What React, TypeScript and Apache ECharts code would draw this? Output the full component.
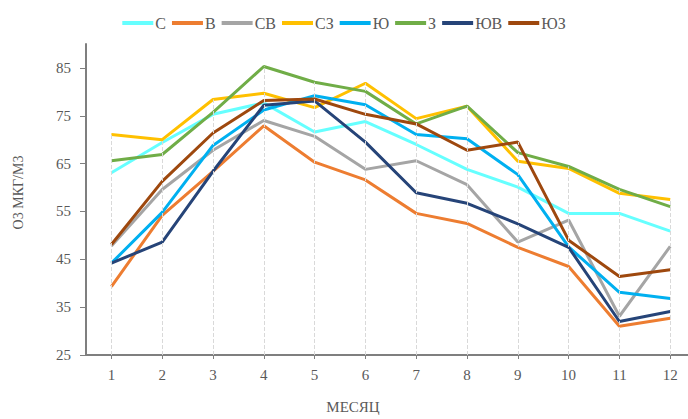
import React, { useEffect, useRef } from "react";
import * as echarts from "echarts";

const months = [1, 2, 3, 4, 5, 6, 7, 8, 9, 10, 11, 12];
const yTicks = [25, 35, 45, 55, 65, 75, 85];

const seriesNames = ["С", "В", "СВ", "СЗ", "Ю", "З", "ЮВ", "ЮЗ"];
const seriesColors = ["#66FFFF", "#ED7D31", "#A5A5A5", "#FFC000", "#00B0F0", "#70AD47", "#264478", "#9E480E"];

const sN = [63.1, 69.4, 75.3, 77.7, 71.6, 73.8, 69.0, 63.8, 60.1, 54.6, 54.6, 50.9];
const sE = [39.3, 54.2, 63.4, 72.9, 65.3, 61.6, 54.6, 52.5, 47.5, 43.5, 31.0, 32.7];
const sNE = [47.8, 59.6, 67.8, 74.0, 70.7, 63.8, 65.6, 60.6, 48.6, 53.2, 33.1, 47.7];
const sNW = [71.1, 70.0, 78.4, 79.7, 76.7, 81.8, 74.4, 77.0, 65.5, 64.0, 58.8, 57.5];
const sS = [44.2, 54.8, 68.8, 76.2, 79.2, 77.3, 71.1, 70.2, 62.7, 47.6, 38.1, 36.8];
const sW = [65.6, 66.9, 75.7, 85.3, 82.0, 80.1, 73.3, 77.0, 67.3, 64.4, 59.6, 56.0];
const sSE = [44.2, 48.6, 63.4, 77.2, 78.1, 69.5, 58.9, 56.7, 52.4, 47.5, 32.0, 34.1];
const sSW = [48.1, 61.3, 71.4, 78.2, 78.5, 75.3, 73.3, 67.8, 69.5, 49.0, 41.4, 42.8];

const seriesValues = [sN, sE, sNE, sNW, sS, sW, sSE, sSW];

const FONT = "Liberation Serif";
const TEXT = "#595959";
const AXIS = "#7F7F7F";

export default function App() {
  const ref = useRef<HTMLDivElement>(null);

  useEffect(() => {
    if (!ref.current) return;
    const chart = echarts.init(ref.current, undefined, { renderer: "svg" });
    const yMin = yTicks[0];
    const maxes = months.map((_, i) => Math.max(...seriesValues.map((s) => s[i])));

    const lineSeries = seriesNames.map((name, k) => ({
      name,
      type: "line",
      data: months.map((m, i) => [m, seriesValues[k][i]]),
      symbol: "none",
      lineStyle: { width: 3, color: seriesColors[k] },
      itemStyle: { color: seriesColors[k] },
      z: 3,
    }));

    chart.setOption({
      animation: false,
      textStyle: { fontFamily: FONT },
      legend: {
        data: seriesNames,
        top: 10,
        left: "center",
        icon: "rect",
        itemWidth: 31,
        itemHeight: 4,
        itemGap: 6,
        textStyle: { color: TEXT, fontSize: 16, fontFamily: FONT, padding: [0, 0, 0, -3] },
      },
      grid: { left: 86, right: 0, top: 44, bottom: 59, containLabel: false },
      xAxis: {
        type: "value",
        min: 0.5,
        max: 12.35,
        name: "МЕСЯЦ",
        nameLocation: "middle",
        nameGap: 44,
        nameTextStyle: { color: TEXT, fontSize: 15, fontFamily: FONT, padding: [0, 68, 0, 0] },
        axisLine: { show: true, lineStyle: { color: AXIS, width: 2 } },
        axisTick: { show: true, customValues: months, length: 4, lineStyle: { color: AXIS } },
        axisLabel: { customValues: months, color: TEXT, fontSize: 15, fontFamily: FONT, margin: 12 },
        splitLine: { show: false },
      },
      yAxis: {
        type: "value",
        min: yMin,
        max: 90,
        name: "O3 МКГ/М3",
        nameLocation: "middle",
        nameGap: 61,
        nameRotate: 90,
        nameTextStyle: { color: TEXT, fontSize: 14, fontFamily: FONT, padding: [0, 0, 0, 14] },
        axisLine: { show: true, lineStyle: { color: AXIS, width: 2 } },
        axisTick: { show: true, customValues: yTicks, length: 6, lineStyle: { color: AXIS } },
        axisLabel: { customValues: yTicks, color: TEXT, fontSize: 15, fontFamily: FONT, margin: 15 },
        splitLine: { show: false },
      },
      series: [
        {
          type: "line",
          data: [],
          silent: true,
          z: 1,
          markLine: {
            silent: true,
            symbol: ["none", "none"],
            label: { show: false },
            lineStyle: { color: "#D9D9D9", type: "dashed", width: 1 },
            data: months.map((m, i) => [{ coord: [m, yMin] }, { coord: [m, maxes[i]] }]),
          },
        },
        ...lineSeries,
      ],
    });
    return () => chart.dispose();
  }, []);

  return <div ref={ref} style={{ position: "absolute", left: 0, top: 0, width: 688, height: 419 }} />;
}
